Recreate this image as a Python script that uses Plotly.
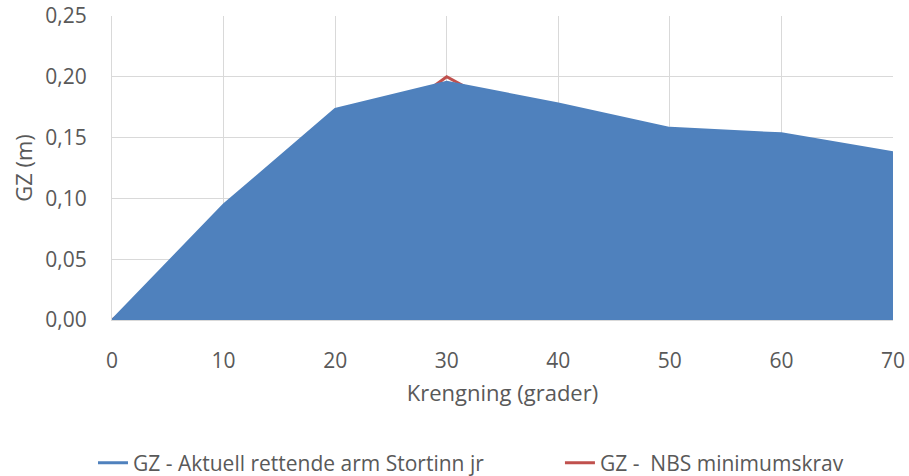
import plotly.graph_objects as go

krengning = [0, 10, 20, 30, 40, 50, 60, 70]
gz_aktuell = [0.0, 0.095, 0.1735, 0.196, 0.178, 0.158, 0.1535, 0.138]
nbs_x = [0, 30, 70]
gz_nbs = [0.0, 0.20, 0.0]
y_ticks = [0.0, 0.05, 0.10, 0.15, 0.20, 0.25]
x_ticks = [0, 10, 20, 30, 40, 50, 60, 70]

name_blue = "GZ - Aktuell rettende arm Stortinn jr"
name_red = "GZ -  NBS minimumskrav"

font_family = "Open Sans, Liberation Sans, sans-serif"
txt = "#595959"
blue = "#4f81bd"
red = "#c0504d"

fig = go.Figure()
fig.add_trace(go.Scatter(
    x=nbs_x, y=gz_nbs, mode="lines", name=name_red,
    line=dict(color=red, width=3), showlegend=False,
))
fig.add_trace(go.Scatter(
    x=krengning, y=gz_aktuell, mode="lines", name=name_blue,
    line=dict(color=blue, width=2),
    fill="tozeroy", fillcolor=blue, showlegend=False,
))
# legend entries (line symbols)
fig.add_trace(go.Scatter(x=[None], y=[None], mode="lines", name=name_blue,
                         line=dict(color=blue, width=3), legend="legend"))
fig.add_trace(go.Scatter(x=[None], y=[None], mode="lines", name=name_red,
                         line=dict(color=red, width=3), legend="legend2"))

leg_common = dict(orientation="h", xref="container", xanchor="left",
                  yref="container", y=0.0273, yanchor="middle",
                  font=dict(size=21, color=txt), bgcolor="rgba(0,0,0,0)")

fig.update_layout(
    width=909, height=476,
    margin=dict(l=112, r=16, t=16, b=156, autoexpand=False),
    paper_bgcolor="white", plot_bgcolor="white",
    separators=", ",
    font=dict(family=font_family, size=21, color=txt),
    showlegend=True,
    legend=dict(x=0.1023, **leg_common),
    legend2=dict(x=0.616, **leg_common),
)
fig.update_xaxes(
    range=[0, 70], tickmode="array", tickvals=x_ticks, automargin=False,
    showgrid=True, gridcolor="#d9d9d9", gridwidth=1,
    showline=True, linecolor="#d9d9d9", linewidth=1,
    zeroline=False, ticks="", ticklabelstandoff=22, ticklabeloverflow="allow",
    tickfont=dict(size=21, color=txt),
    title=dict(text="Krengning (grader)", font=dict(size=22, color=txt), standoff=12),
)
fig.update_yaxes(
    range=[0, 0.25], tickmode="array", tickvals=y_ticks, tickformat=".2f",
    automargin=False,
    showgrid=True, gridcolor="#d9d9d9", gridwidth=1,
    showline=True, linecolor="#d9d9d9", linewidth=1,
    zeroline=False, ticks="", ticklabelstandoff=20, ticklabeloverflow="allow",
    tickfont=dict(size=21, color=txt),
    title=dict(text="GZ (m)", font=dict(size=22, color=txt), standoff=6),
)

fig.write_html(
    "out.html",
    config={"displayModeBar": False},
    post_script="document.body.style.margin='0';document.body.style.overflow='hidden';",
)
